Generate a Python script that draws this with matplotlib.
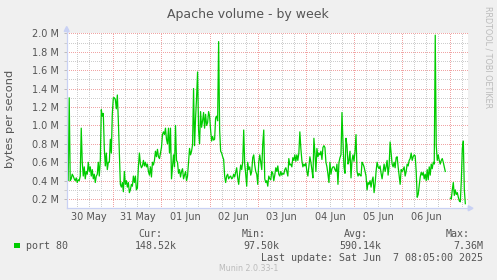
import numpy as np
import pandas as pd
import matplotlib
matplotlib.use("Agg")
import matplotlib.pyplot as plt
from matplotlib.patches import Rectangle, Polygon
from matplotlib.lines import Line2D

# ---------------- data ----------------
title = "Apache volume - by week"
y_label = "bytes per second"
series_label = "port 80"
day_labels = ["30 May", "31 May", "01 Jun", "02 Jun", "03 Jun", "04 Jun", "05 Jun", "06 Jun"]
first_day = "2025-05-30"
first_sample = "2025-05-30 01:00"
sample_step = "30min"
window_start = "2025-05-30 00:45"
window_end = "2025-06-07 08:35"
y_ticks = [0.2, 0.4, 0.6, 0.8, 1.0, 1.2, 1.4, 1.6, 1.8, 2.0]
y_limits = [0.1, 2.0]
stat_headers = ["Cur:", "Min:", "Avg:", "Max:"]
stat_values = ["148.52k", "97.50k", "590.14k", "7.36M"]
last_update = "Last update: Sat Jun  7 08:05:00 2025"
munin_version = "Munin 2.0.33-1"
rrd_credit = "RRDTOOL / TOBI OETIKER"

nan = float("nan")
# port 80 traffic in MB/s, one sample per 30 minutes from 30 May 01:00
port80 = [
    0.65, 0.40, 1.30, 0.40, 0.42, 0.47, 0.45, 0.42, 0.40, 0.43, 0.38, 0.41, 0.40, 0.45, 0.97, 0.60, 0.45, 0.55, 0.42, 0.50,
    0.47, 0.60, 0.50, 0.55, 0.45, 0.52, 0.42, 0.47, 0.38, 0.45, 0.47, 0.60, 0.45, 0.62, 1.17, 1.10, 1.13, 0.75, 0.56, 0.70,
    0.52, 0.60, 0.60, 0.85, 0.70, 1.13, 1.30, 1.30, 1.28, 1.18, 1.33, 1.05, 0.70, 0.36, 0.33, 0.38, 0.28, 0.50, 0.36, 0.40,
    0.33, 0.38, 0.27, 0.30, 0.36, 0.34, 0.45, 0.38, 0.45, 0.30, 0.32, 0.55, 0.70, 0.58, 0.54, 0.56, 0.62, 0.56, 0.60, 0.55,
    0.58, 0.50, 0.46, 0.55, 0.44, 0.60, 0.57, 0.62, 0.72, 0.66, 0.74, 0.66, 0.64, 0.70, 0.76, 0.90, 0.93, 0.90, 0.97, 0.85,
    0.80, 0.97, 0.70, 0.97, 0.42, 0.55, 0.68, 0.55, 1.00, 0.62, 0.60, 0.48, 0.52, 0.44, 0.50, 0.53, 0.42, 0.46, 0.50, 0.40,
    0.45, 0.60, 0.75, 0.68, 0.72, 0.79, 1.40, 0.78, 1.08, 1.30, 1.58, 0.95, 0.80, 1.15, 0.98, 1.05, 1.14, 0.97, 1.12, 1.00,
    1.03, 1.15, 1.10, 0.95, 0.83, 0.88, 0.84, 0.85, 1.08, 1.10, 1.05, 1.91, 0.95, 0.72, 0.70, 0.66, 0.63, 0.45, 0.38, 0.45,
    0.47, 0.42, 0.44, 0.45, 0.42, 0.43, 0.47, 0.44, 0.49, 0.54, 0.43, 0.36, 0.48, 0.57, 0.52, 0.60, 0.95, 0.58, 0.47, 0.34,
    0.60, 0.52, 0.55, 0.46, 0.50, 0.65, 0.68, 0.57, 0.50, 0.47, 0.36, 0.60, 0.68, 0.60, 0.52, 0.80, 0.95, 0.42, 0.38, 0.40,
    0.34, 0.45, 0.42, 0.41, 0.50, 0.48, 0.40, 0.46, 0.54, 0.50, 0.56, 0.47, 0.45, 0.50, 0.46, 0.48, 0.47, 0.52, 0.54, 0.50,
    0.45, 0.64, 0.57, 0.58, 0.55, 0.65, 0.62, 0.68, 0.61, 0.68, 0.62, 0.70, 0.93, 0.75, 0.62, 0.55, 0.58, 0.56, 0.59, 0.50,
    0.45, 0.56, 0.66, 0.60, 0.52, 0.43, 0.86, 0.70, 0.50, 0.75, 0.66, 0.70, 0.68, 0.72, 0.63, 0.76, 0.78, 0.76, 0.60, 0.55,
    0.47, 0.38, 0.60, 0.47, 0.53, 0.55, 0.55, 0.52, 0.50, 0.58, 0.36, 0.60, 0.65, 0.68, 1.14, 0.82, 0.55, 0.48, 0.86, 0.78,
    0.58, 0.62, 0.72, 0.43, 0.62, 0.68, 0.61, 0.72, 0.90, 0.50, 0.45, 0.48, 0.46, 0.45, 0.60, 0.58, 0.55, 0.50, 0.45, 0.30,
    0.38, 0.36, 0.40, 0.33, 0.40, 0.44, 0.27, 0.36, 0.50, 0.60, 0.55, 0.53, 0.56, 0.48, 0.42, 0.50, 0.58, 0.50, 0.55, 0.62,
    0.46, 0.56, 0.82, 0.70, 0.58, 0.55, 0.60, 0.54, 0.65, 0.66, 0.55, 0.46, 0.36, 0.52, 0.50, 0.52, 0.55, 0.45, 0.50, 0.58,
    0.56, 0.62, 0.64, 0.70, 0.62, 0.66, 0.68, 0.67, 0.50, 0.22, 0.25, 0.34, 0.44, 0.49, 0.46, 0.49, 0.42, 0.47, 0.40, 0.52,
    0.41, 0.55, 0.46, 0.58, 0.53, 0.60, 0.58, 1.98, 0.78, 0.62, 0.68, 0.62, 0.58, 0.62, 0.64, 0.60, 0.55, 0.50, nan, nan,
    nan, nan, 0.21, 0.20, 0.30, 0.38, 0.24, 0.30, 0.25, 0.27, 0.22, 0.18, 0.17, 0.40, 0.75, 0.83, 0.30, 0.15,
]

# ---------------- style ----------------
plt.rcParams["lines.scale_dashes"] = False
W, H = 497, 280
BG = "#F0F0F0"
FONT_C = "#555555"
AXIS_C = "#C9D1F4"
MAJ_C = "#F0A4A4"
MIN_C = "#CDCDCD"
LINE_C = "#00CC00"


def fx(x):
    return x / W


def fy(y):
    return 1 - y / H


fig = plt.figure(figsize=(W / 100, H / 100), dpi=100, facecolor=BG)
left, right, top, bottom = 66.7, 467.5, 33.3, 208.3
ax = fig.add_axes([fx(left), fy(bottom), (right - left) / W, (bottom - top) / H])
ax.set_facecolor("white")

times = pd.date_range(first_sample, periods=len(port80), freq=sample_step)
t0 = pd.Timestamp(window_start)
t1 = pd.Timestamp(window_end)
ax.set_xlim(t0, t1)
ax.set_ylim(*y_limits)

# grid (1px on / 2px off dotted lines)
midnights = pd.date_range(first_day, periods=len(day_labels) + 1, freq="1D") + pd.Timedelta("1D")
six_hours = pd.date_range(first_day, periods=(len(day_labels) + 1) * 4 + 1, freq="6h")
dash = (0, (0.72, 1.44))
GLW = 0.72
gkw = dict(lw=GLW, ls=dash, antialiased=False)
for t in six_hours:
    if t0 < t < t1 and t.hour != 0:
        ax.axvline(t, color=MIN_C, zorder=1, **gkw)
for t in midnights:
    if t0 < t < t1:
        ax.axvline(t, color=MAJ_C, zorder=1.5, **gkw)
minor_y = [v + 0.1 for v in y_ticks[:-1]]
for v in minor_y:
    ax.axhline(v, color=MIN_C, zorder=1, **gkw)
for v in y_ticks:
    ax.axhline(v, color=MAJ_C, zorder=1.5, **gkw)

ax.plot(times, port80, color=LINE_C, lw=0.9, zorder=3)

# ticks
noons = pd.date_range(first_day + " 12:00", periods=len(day_labels), freq="1D")
ax.set_xticks(noons)
ax.set_xticklabels(day_labels)
ax.set_yticks(y_ticks)
ax.set_yticklabels([f"{v:.1f} M" for v in y_ticks])
ax.set_yticks(minor_y, minor=True)
ax.tick_params(axis="x", length=0, pad=3.0, labelsize=7, labelcolor=FONT_C)
ax.tick_params(axis="y", which="major", length=2.5, width=0.7, color="#BBBBBB",
               pad=3.0, labelsize=7, labelcolor=FONT_C)
ax.tick_params(axis="y", which="minor", length=2.0, width=0.7, color="#CCCCCC")

for s in ["top", "right"]:
    ax.spines[s].set_visible(False)
for s in ["left", "bottom"]:
    ax.spines[s].set_color(AXIS_C)
    ax.spines[s].set_linewidth(0.9)
    ax.spines[s].set_zorder(4)

# arrows
fig.add_artist(Line2D([fx(left), fx(left)], [fy(top), fy(29)], color=AXIS_C, lw=0.9,
                      transform=fig.transFigure))
fig.add_artist(Polygon([(fx(64.2), fy(31.5)), (fx(69.2), fy(31.5)), (fx(66.7), fy(26.5))],
                       closed=True, color=AXIS_C, transform=fig.transFigure))
fig.add_artist(Line2D([fx(right), fx(469)], [fy(bottom), fy(bottom)], color=AXIS_C, lw=0.9,
                      transform=fig.transFigure))
fig.add_artist(Polygon([(fx(468.3), fy(205.8)), (fx(468.3), fy(210.8)), (fx(473.0), fy(208.3))],
                       closed=True, color=AXIS_C, transform=fig.transFigure))

# texts
fig.text(fx(248.3), fy(17.7), title, ha="center", va="baseline", fontsize=9,
         color=FONT_C, family="DejaVu Sans")
fig.text(fx(10), fy(119), y_label, rotation=90, ha="center", va="center", fontsize=8.2,
         color=FONT_C, family="DejaVu Sans")
fig.text(fx(488.3), fy(56.7), rrd_credit, rotation=270, ha="center", va="center",
         fontsize=5.8, color="#BBBBBB", family="DejaVu Sans")

mono = dict(family="DejaVu Sans Mono", fontsize=7.2, color=FONT_C)
header_right = [162.8, 265.8, 367.8, 469.8]
value_right = [176.5, 279.5, 381.5, 483.2]
for hdr, xr in zip(stat_headers, header_right):
    fig.text(fx(xr), fy(236.7), hdr, ha="right", va="baseline", **mono)
for val, xr in zip(stat_values, value_right):
    fig.text(fx(xr), fy(249.2), val, ha="right", va="baseline", **mono)
fig.text(fx(26.0), fy(249.2), series_label, ha="left", va="baseline", **mono)
fig.add_artist(Rectangle((fx(14), fy(248)), 5.5 / W, 5.5 / H, facecolor=LINE_C,
                         edgecolor="none", transform=fig.transFigure))
fig.text(fx(483.2), fy(260.8), last_update, ha="right", va="baseline", **mono)
fig.text(fx(248.3), fy(271.3), munin_version, ha="center", va="baseline", fontsize=5.7,
         color="#BBBBBB", family="DejaVu Sans")

fig.savefig("out.png", dpi=100, facecolor=BG)
